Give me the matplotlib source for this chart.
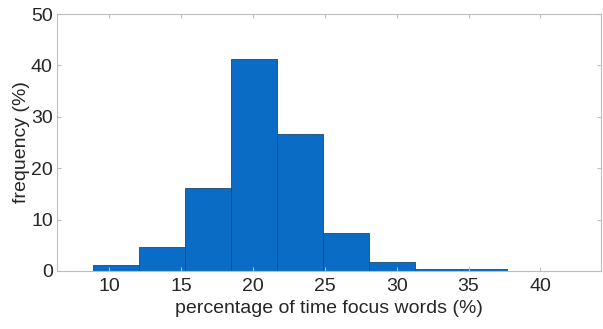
import numpy as np
import matplotlib.pyplot as plt

plt.rcParams['font.family'] = ['Liberation Sans', 'DejaVu Sans']

# bin edges and heights
bin_edges = [8.87, 12.07, 15.27, 18.47, 21.67, 24.87, 28.07, 31.27, 34.47, 37.67, 40.87]
freq = [1.1, 4.6, 16.1, 41.2, 26.6, 7.4, 1.7, 0.3, 0.3, 0.08]
x_ticks = [10, 15, 20, 25, 30, 35, 40]
y_ticks = [0, 10, 20, 30, 40, 50]

fig = plt.figure(figsize=(6.03, 3.29), dpi=100)
ax = fig.add_axes([0.0945, 0.1763, 0.902, 0.781])

left = np.array(bin_edges[:-1])
width = np.diff(bin_edges)
ax.bar(left, freq, width=width, align='edge', color='#0a6cc4',
       edgecolor='#1c4a73', linewidth=0.6)

ax.set_xlim(6.38, 44.2)
ax.set_ylim(0, 50)
ax.set_xticks(x_ticks)
ax.set_yticks(y_ticks)
for s in ax.spines.values():
    s.set_color('#bdbdbd')
    s.set_linewidth(0.8)
ax.tick_params(direction='in', length=3, color='#bdbdbd', labelcolor='#262626',
               labelsize=14, top=True, right=True, pad=3)
ax.tick_params(axis='x', pad=5)
ax.set_xlabel('percentage of time focus words (%)', fontsize=14, color='#262626', labelpad=4)
ax.set_ylabel('frequency (%)', fontsize=14, color='#262626', labelpad=1)

fig.savefig('out.png', dpi=100)
